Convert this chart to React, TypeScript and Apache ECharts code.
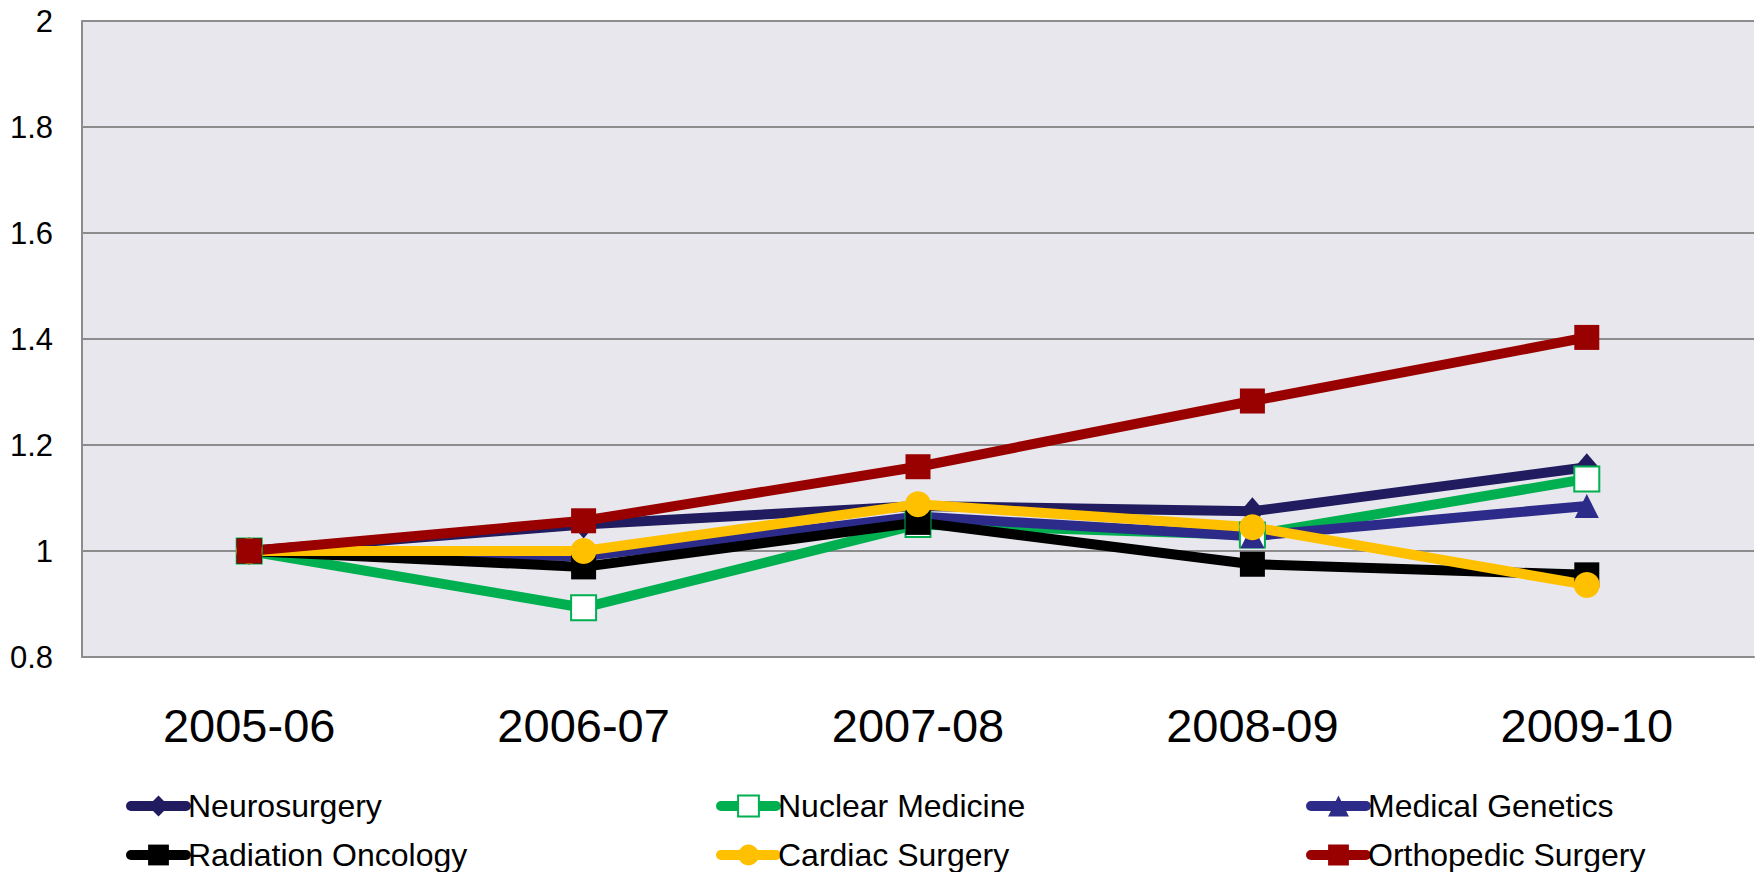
import React, { useEffect, useRef } from "react";
import * as echarts from "echarts";

const categories = ["2005-06", "2006-07", "2007-08", "2008-09", "2009-10"];
const neurosurgery = [1, 1.05, 1.085, 1.075, 1.158];
const nuclearMedicine = [1, 0.893, 1.05, 1.03, 1.136];
const medicalGenetics = [1, 0.99, 1.065, 1.028, 1.085];
const radiationOncology = [1, 0.97, 1.054, 0.975, 0.955];
const cardiacSurgery = [1, 1.0, 1.088, 1.045, 0.936];
const orthopedicSurgery = [1, 1.057, 1.159, 1.283, 1.403];
const yMin = 0.8;
const yMax = 2;
const yStep = 0.2;

const FONT = "Liberation Sans, Arial, Helvetica, sans-serif";

export default function App() {
  const ref = useRef<HTMLDivElement>(null);
  useEffect(() => {
    document.body.style.margin = "0";
    const chart = echarts.init(ref.current!, null, { renderer: "svg" });
    const lineBase = (name: string, data: number[], color: string, symbol: string, size: any) => ({
      name,
      type: "line",
      data,
      symbol,
      symbolSize: size,
      z: 2,
      lineStyle: { color, width: 10, cap: "round", join: "round" },
      itemStyle: { color, borderColor: color, borderWidth: 0 },
      emphasis: { disabled: true },
    });
    const legendItem = (name: string, left: number, top: number) => ({
      orient: "horizontal",
      left,
      top,
      padding: 0,
      itemWidth: 55,
      itemHeight: 26,
      itemGap: 0,
      lineStyle: { width: 10, cap: "round" },
      textStyle: { fontFamily: FONT, fontSize: 32, color: "#000", lineHeight: 32, padding: [0, 0, 0, -3] },
      selectedMode: false,
      data: [name],
    });
    chart.setOption({
      animation: false,
      backgroundColor: "#ffffff",
      grid: { left: 82, right: 3, top: 21, bottom: 215, show: true, backgroundColor: "#E8E7ED", borderWidth: 0 },
      xAxis: {
        type: "category",
        data: categories,
        boundaryGap: true,
        axisLine: { show: true, lineStyle: { color: "#8C8C8C", width: 2 } },
        axisTick: { show: false },
        axisLabel: { fontFamily: FONT, fontSize: 47, color: "#000", margin: 45 },
      },
      yAxis: {
        type: "value",
        min: yMin,
        max: yMax,
        interval: yStep,
        axisLine: { show: true, lineStyle: { color: "#8C8C8C", width: 2 } },
        axisTick: { show: false },
        splitLine: { show: true, lineStyle: { color: "#8C8C8C", width: 2 } },
        axisLabel: {
          fontFamily: FONT,
          fontSize: 31,
          color: "#000",
          margin: 29,
          formatter: (v: number) => String(parseFloat(v.toFixed(1))),
        },
      },
      legend: [
        legendItem("Neurosurgery", 126, 790),
        legendItem("Radiation Oncology", 126, 839),
        legendItem("Nuclear Medicine", 716, 790),
        legendItem("Cardiac Surgery", 716, 839),
        legendItem("Medical Genetics", 1306, 790),
        legendItem("Orthopedic Surgery", 1306, 839),
      ],
      series: [
        lineBase("Neurosurgery", neurosurgery, "#201C5F", "diamond", [24, 28]),
        {
          ...lineBase("Nuclear Medicine", nuclearMedicine, "#00B050", "rect", 25),
          itemStyle: { color: "#FFFFFF", borderColor: "#00B050", borderWidth: 2 },
        },
        lineBase("Medical Genetics", medicalGenetics, "#2D2B8A", "triangle", [24, 24]),
        lineBase("Radiation Oncology", radiationOncology, "#000000", "rect", 25),
        lineBase("Cardiac Surgery", cardiacSurgery, "#FFC000", "circle", 26),
        lineBase("Orthopedic Surgery", orthopedicSurgery, "#990000", "rect", 25),
      ],
    });
    return () => chart.dispose();
  }, []);
  return <div ref={ref} style={{ position: "fixed", left: 0, top: 0, width: 1757, height: 872 }} />;
}
